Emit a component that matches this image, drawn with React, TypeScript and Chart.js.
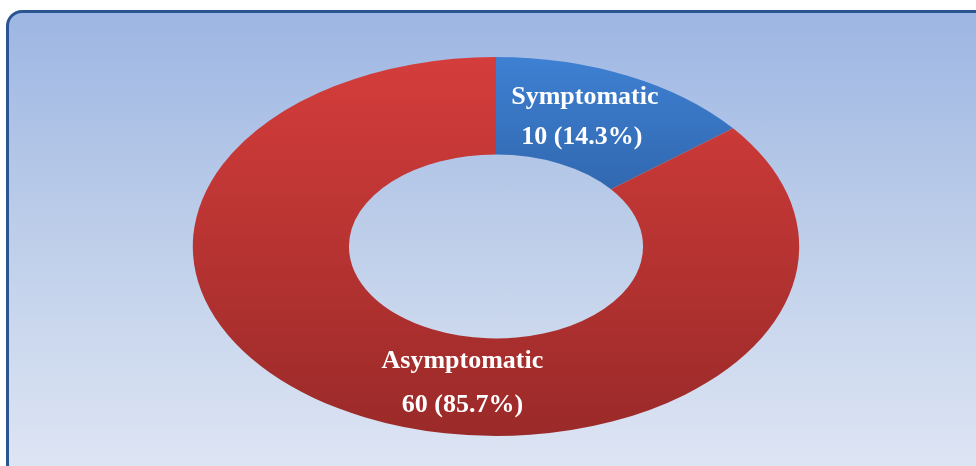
import React, { useEffect, useRef } from "react";
import { Chart, registerables } from "chart.js";

Chart.register(...registerables);

const categories = ["Symptomatic", "Asymptomatic"];
const counts = [10, 60];
const percents = ["14.3%", "85.7%"];

// label placement (angle from 12 o'clock in degrees, radius as fraction of outer radius)
const labelAngles = [23.5, 188.5];
const labelRadii = [0.71, 0.75];

const X_STRETCH = 1.6;

const stretchPlugin = {
  id: "stretch",
  beforeDatasetsDraw(chart: any) {
    const arc = chart.getDatasetMeta(0).data[0];
    if (!arc) return;
    const ctx = chart.ctx;
    ctx.save();
    ctx.translate(arc.x, arc.y);
    ctx.scale(X_STRETCH, 1);
    ctx.translate(-arc.x, -arc.y);
  },
  afterDatasetsDraw(chart: any) {
    chart.ctx.restore();
  },
};

const labelPlugin = {
  id: "labels",
  afterDraw(chart: any) {
    const ctx = chart.ctx;
    const meta = chart.getDatasetMeta(0);
    meta.data.forEach((arc: any, i: number) => {
      const a = (labelAngles[i] * Math.PI) / 180;
      const r = arc.outerRadius * labelRadii[i];
      const x = arc.x + Math.sin(a) * r * X_STRETCH;
      const y = arc.y - Math.cos(a) * r;
      ctx.save();
      ctx.fillStyle = "#ffffff";
      ctx.font = "bold 26px 'Liberation Serif', 'Times New Roman', serif";
      ctx.textAlign = "center";
      ctx.textBaseline = "alphabetic";
      const gap = i === 0 ? 40 : 44;
      ctx.fillText(categories[i], x + (i === 0 ? 3 : 0), y - 19);
      ctx.fillText(`${counts[i]} (${percents[i]})`, x, y - 19 + gap);
      ctx.restore();
    });
  },
};

export default function App() {
  const ref = useRef<HTMLCanvasElement>(null);
  useEffect(() => {
    if (!ref.current) return;
    const chart = new Chart(ref.current, {
      type: "doughnut",
      data: {
        labels: categories,
        datasets: [
          {
            data: counts,
            borderWidth: 0,
            backgroundColor: (c: any) => {
              const ch = c.chart;
              const area = ch.chartArea;
              if (!area) return c.dataIndex === 0 ? "#3775c4" : "#c03634";
              const g = ch.ctx.createLinearGradient(0, area.top, 0, area.bottom);
              if (c.dataIndex === 0) {
                g.addColorStop(0, "#3e80d2");
                g.addColorStop(0.35, "#3168b0");
                g.addColorStop(1, "#24508a");
              } else {
                g.addColorStop(0, "#d43d3b");
                g.addColorStop(1, "#9a2a29");
              }
              return g;
            },
          },
        ],
      },
      plugins: [stretchPlugin, labelPlugin],
      options: {
        responsive: false,
        animation: false,
        devicePixelRatio: 1,
        cutout: "48.5%",
        rotation: 0,
        layout: { padding: { top: 57, bottom: 30, left: 16, right: 0 } },
        plugins: {
          legend: { display: false },
          tooltip: { enabled: false },
        },
      },
    });
    return () => chart.destroy();
  }, []);

  return (
    <div
      style={{
        position: "fixed",
        left: 0,
        top: 0,
        width: 976,
        height: 466,
        overflow: "hidden",
      }}
    >
      <div
        style={{
          position: "absolute",
          left: 6,
          top: 10,
          width: 990,
          height: 470,
          boxSizing: "border-box",
          border: "3px solid #2a5590",
          borderRadius: 16,
          background: "linear-gradient(to bottom, #9db6e3 0%, #bccde9 45%, #dfe6f4 100%)",
        }}
      />
      <canvas
        ref={ref}
        width={976}
        height={466}
        style={{ position: "absolute", left: 0, top: 0, width: 976, height: 466 }}
      />
    </div>
  );
}
